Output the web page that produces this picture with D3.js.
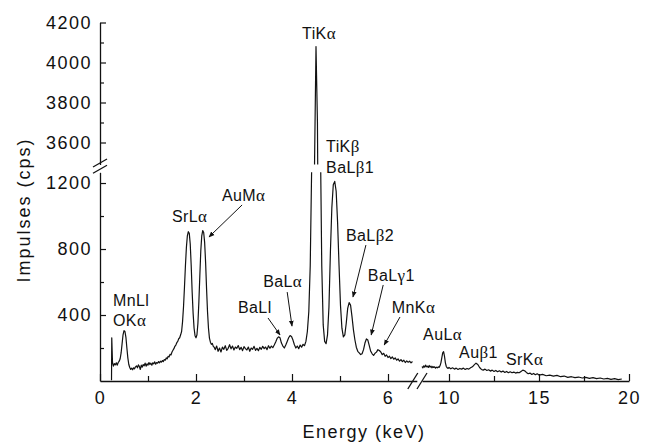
<!DOCTYPE html>
<html>
<head>
<meta charset="utf-8">
<script src="https://cdn.jsdelivr.net/npm/d3@7"></script>
<style>
body { margin: 0; background: #fff; }
svg text { font-family: "Liberation Sans", Arial, sans-serif; fill: #111; }
</style>
</head>
<body>
<svg id="chart" width="654" height="443"></svg>
<script>
// spectrum, part before the x break (keV, cps)
var energyLow = [0.24,0.245,0.26,0.28,0.30,0.32,0.34,0.36,0.38,0.40,0.42,0.44,0.46,0.48,0.50,0.52,0.54,0.56,0.58,0.60,
  0.62,0.64,0.66,0.68,0.70,0.72,0.74,0.76,0.78,0.80,0.82,0.84,0.86,0.88,0.90,0.92,0.94,0.96,0.98,1.00,
  1.02,1.04,1.06,1.08,1.10,1.12,1.14,1.16,1.18,1.20,1.22,1.24,1.26,1.28,1.30,1.32,1.34,1.36,1.38,1.40,
  1.42,1.44,1.46,1.48,1.50,1.52,1.54,1.56,1.58,1.60,1.62,1.64,1.66,1.68,1.70,1.72,1.74,1.76,1.78,1.80,
  1.82,1.84,1.86,1.88,1.90,1.92,1.94,1.96,1.98,2.00,2.02,2.04,2.06,2.08,2.10,2.12,2.14,2.16,2.18,2.20,
  2.22,2.24,2.26,2.28,2.30,2.32,2.34,2.36,2.38,2.40,2.43,2.46,2.49,2.52,2.55,2.58,2.61,2.64,2.67,2.70,
  2.73,2.76,2.79,2.82,2.85,2.88,2.91,2.94,2.97,3.00,3.03,3.06,3.09,3.12,3.15,3.18,3.21,3.24,3.27,3.30,
  3.33,3.36,3.39,3.42,3.45,3.48,3.51,3.54,3.57,3.60,3.63,3.66,3.69,3.72,3.75,3.78,3.81,3.84,3.87,3.90,
  3.93,3.96,3.99,4.02,4.05,4.08,4.11,4.14,4.17,4.20,4.23,4.26,4.29,4.32,4.35,4.38,4.41,4.44,4.47,4.50,
  4.53,4.56,4.59,4.62,4.65,4.68,4.71,4.74,4.77,4.80,4.83,4.86,4.89,4.92,4.95,4.98,5.01,5.04,5.07,5.10,
  5.13,5.16,5.19,5.22,5.25,5.28,5.31,5.34,5.37,5.40,5.43,5.46,5.49,5.52,5.55,5.58,5.61,5.64,5.67,5.70,
  5.73,5.76,5.79,5.82,5.85,5.88,5.91,5.94,5.97,6.00,6.03,6.06,6.09,6.12,6.15,6.18,6.21,6.24,6.27,6.30,
  6.33,6.36,6.39,6.42,6.45,6.48,6.51];
var countsLow = [5,262,115,90,105,98,110,96,112,120,135,170,225,280,305,300,265,200,140,100,
  82,70,78,68,80,74,86,92,80,98,88,70,96,84,100,92,108,90,104,96,
  112,100,108,96,110,104,116,102,112,108,118,110,120,114,124,118,130,126,140,134,
  150,146,162,158,176,186,196,210,218,232,240,256,262,280,300,360,450,570,700,810,
  880,905,895,830,700,540,410,320,275,262,280,350,480,640,790,880,912,900,840,720,
  560,420,320,260,235,222,228,210,205,190,212,180,200,176,205,192,214,186,198,220,
  195,212,188,206,198,215,190,204,184,208,196,188,206,180,200,192,210,186,198,184,
  204,192,210,196,206,190,214,198,212,202,218,236,258,268,262,230,212,200,218,240,
  262,275,270,248,220,200,212,196,218,205,222,214,240,300,420,700,1300,2300,3500,4080,
  3700,2600,1500,700,340,240,226,280,450,780,1050,1190,1210,1150,960,700,460,320,268,280,
  350,440,475,460,390,310,250,205,180,170,160,165,190,230,255,248,215,180,165,155,
  168,175,190,185,176,160,168,150,158,142,150,136,146,132,140,126,134,120,130,118,
  126,112,122,114,120,110,118];

// spectrum, part after the x break
var energyHigh = [8.50,8.55,8.60,8.65,8.70,8.75,8.80,8.85,8.90,8.95,9.00,9.05,9.10,9.15,9.20,9.25,9.30,9.35,9.40,9.45,
  9.50,9.55,9.60,9.65,9.70,9.75,9.80,9.85,9.90,9.95,10.0,10.1,10.2,10.3,10.4,10.5,10.6,10.7,10.8,10.9,
  11.0,11.1,11.2,11.3,11.4,11.5,11.6,11.7,11.8,11.9,12.0,12.1,12.2,12.3,12.4,12.5,12.6,12.7,12.8,12.9,
  13.0,13.1,13.2,13.3,13.4,13.5,13.6,13.7,13.8,13.9,14.0,14.1,14.2,14.3,14.4,14.5,14.6,14.7,14.8,14.9,
  15.0,15.2,15.4,15.6,15.8,16.0,16.2,16.4,16.6,16.8,17.0,17.2,17.4,17.6,17.8,18.0,18.2,18.4,18.6,18.8,
  19.0,19.2,19.4,19.6];
var countsHigh = [88,80,92,84,96,86,90,82,94,84,90,80,88,82,86,78,84,80,86,82,
  92,110,140,170,178,150,110,88,80,76,82,74,80,72,78,70,76,72,78,70,
  76,72,80,86,98,108,100,82,70,66,72,64,68,60,66,58,64,56,62,54,
  60,52,58,50,56,50,54,48,52,50,58,66,62,52,44,48,40,46,38,44,
  36,40,32,36,30,34,26,30,22,26,20,24,18,22,16,20,14,18,12,16,
  10,14,8,12];

// tick values
var yTicksUp = [3600, 3800, 4000, 4200];
var yMinorUp = [3700, 3900, 4100];
var yTicksLow = [400, 800, 1200];
var yMinorLow = [200, 600, 1000];
var xTicksLow = [0, 2, 4, 6];
var xMinorLow = [1, 3, 5];
var xTicksHigh = [10, 15, 20];
var xMinorHigh = [12.5, 17.5];

// peak labels, placed in data coordinates (left edge, baseline)
var peakLabels = [
  {t: "MnLl", e: 0.27, c: 455, p: "low"},
  {t: "OKα", e: 0.27, c: 333, p: "low"},
  {t: "SrLα", e: 1.5, c: 964, p: "low"},
  {t: "AuMα", e: 2.54, c: 1091, p: "low"},
  {t: "TiKα", e: 4.21, c: 4117, p: "up"},
  {t: "TiKβ", e: 4.71, c: 3552, p: "up"},
  {t: "BaLβ1", e: 4.71, c: 1261, p: "low"},
  {t: "BaLl", e: 2.875, c: 412, p: "low"},
  {t: "BaLα", e: 3.4, c: 570, p: "low"},
  {t: "BaLβ2", e: 5.125, c: 849, p: "low"},
  {t: "BaLγ1", e: 5.58, c: 606, p: "low"},
  {t: "MnKα", e: 6.08, c: 412, p: "low"},
  {t: "AuLα", e: 8.56, c: 248, p: "high"},
  {t: "Auβ1", e: 10.56, c: 139, p: "high"},
  {t: "SrKα", e: 13.17, c: 97, p: "high"}
];
// arrows: from (e, c) to (e, c)
var arrowLines = [
  [2.96, 1067, 2.27, 873],
  [3.5, 382, 3.75, 279],
  [3.9, 539, 4.0, 333],
  [5.54, 824, 5.27, 509],
  [5.9, 582, 5.65, 279],
  [6.25, 388, 5.92, 218]
];

var svg = d3.select("svg#chart");

// scales for the two x pieces and the two y pieces
var xLow = d3.scaleLinear().domain([0, 6.6]).range([100, 416.8]);
var xHigh = d3.scaleLinear().domain([8.5, 20]).range([422, 629]);
var yLow = d3.scaleLinear().domain([0, 1265]).range([381, 172.3]);
var yUp = d3.scaleLinear().domain([3490, 4200]).range([164.5, 22.5]);
var fmt = d3.format("d");

var defs = svg.append("defs");
defs.append("clipPath").attr("id", "clipLow")
  .append("rect").attr("x", 90).attr("y", yLow(1265)).attr("width", 340).attr("height", 240);
defs.append("clipPath").attr("id", "clipUp")
  .append("rect").attr("x", 90).attr("y", 0).attr("width", 340).attr("height", yUp(3490));
defs.append("marker").attr("id", "head")
  .attr("viewBox", "0 0 10 10").attr("refX", 9).attr("refY", 5)
  .attr("markerWidth", 6).attr("markerHeight", 6).attr("markerUnits", "userSpaceOnUse")
  .attr("orient", "auto")
  .append("path").attr("d", "M0,1 L10,5 L0,9 Z").attr("fill", "#111");

// axes
function styleAxis(g, size) {
  g.selectAll("text").style("font-size", size + "px").style("letter-spacing", "1.5px")
    .style("font-family", "'Liberation Sans', Arial, sans-serif").attr("fill", "#111");
  g.selectAll("line").attr("stroke", "#111").attr("stroke-width", 1.2);
  g.select(".domain").attr("stroke", "#111").attr("stroke-width", 1.3);
}

var gy1 = svg.append("g").attr("transform", "translate(100,0)")
  .call(d3.axisLeft(yUp).tickValues(yTicksUp).tickFormat(fmt).tickSize(-6).tickSizeOuter(0).tickPadding(8));
styleAxis(gy1, 18);
svg.append("g").attr("transform", "translate(100,0)")
  .call(d3.axisLeft(yUp).tickValues(yMinorUp).tickSize(-4).tickFormat(""))
  .call(function(g){ g.select(".domain").remove(); styleAxis(g, 18); });

var gy2 = svg.append("g").attr("transform", "translate(100,0)")
  .call(d3.axisLeft(yLow).tickValues(yTicksLow).tickFormat(fmt).tickSize(-6).tickSizeOuter(0).tickPadding(8));
styleAxis(gy2, 18);
svg.append("g").attr("transform", "translate(100,0)")
  .call(d3.axisLeft(yLow).tickValues(yMinorLow).tickSize(-4).tickFormat(""))
  .call(function(g){ g.select(".domain").remove(); styleAxis(g, 18); });

var gx1 = svg.append("g").attr("transform", "translate(0,381)")
  .call(d3.axisBottom(xLow).tickValues(xTicksLow).tickFormat(fmt).tickSize(-7).tickSizeOuter(0).tickPadding(10));
styleAxis(gx1, 18);
svg.append("g").attr("transform", "translate(0,381)")
  .call(d3.axisBottom(xLow).tickValues(xMinorLow).tickSize(-5).tickFormat(""))
  .call(function(g){ g.select(".domain").remove(); styleAxis(g, 18); });

var gx2 = svg.append("g").attr("transform", "translate(0,381)")
  .call(d3.axisBottom(xHigh).tickValues(xTicksHigh).tickFormat(fmt).tickSize(-7).tickSizeOuter(0).tickPadding(10));
styleAxis(gx2, 18);
svg.append("g").attr("transform", "translate(0,381)")
  .call(d3.axisBottom(xHigh).tickValues(xMinorHigh).tickSize(-5).tickFormat(""))
  .call(function(g){ g.select(".domain").remove(); styleAxis(g, 18); });

// break marks
var breaks = svg.append("g").attr("stroke", "#111").attr("stroke-width", 1.3);
[yUp(3490) - 1.5, yLow(1265) - 3].forEach(function(yc){
  breaks.append("line").attr("x1", 93).attr("y1", yc + 4).attr("x2", 107).attr("y2", yc - 4);
});
[xLow(6.6) - 4, xHigh(8.5)].forEach(function(xc){
  breaks.append("line").attr("x1", xc - 5).attr("y1", 389).attr("x2", xc + 5).attr("y2", 373);
});

// spectrum
var lineLowY = d3.line().x(function(d){ return xLow(d[0]); }).y(function(d){ return yLow(d[1]); });
var lineUpY = d3.line().x(function(d){ return xLow(d[0]); }).y(function(d){ return yUp(d[1]); });
var lineHigh = d3.line().x(function(d){ return xHigh(d[0]); }).y(function(d){ return yLow(d[1]); });
var lowData = d3.zip(energyLow, countsLow);

svg.append("path").datum(lowData).attr("d", lineLowY).attr("clip-path", "url(#clipLow)")
  .attr("fill", "none").attr("stroke", "#111").attr("stroke-width", 1.2).attr("stroke-linejoin", "round");
svg.append("path").datum(lowData).attr("d", lineUpY).attr("clip-path", "url(#clipUp)")
  .attr("fill", "none").attr("stroke", "#111").attr("stroke-width", 1.2).attr("stroke-linejoin", "round");
svg.append("path").datum(d3.zip(energyHigh, countsHigh)).attr("d", lineHigh)
  .attr("fill", "none").attr("stroke", "#111").attr("stroke-width", 1.2).attr("stroke-linejoin", "round");

// labels, greek letters in a serif face
function addLabel(txt, x, y) {
  var t = svg.append("text").attr("x", x).attr("y", y)
    .style("font-size", "16px").style("letter-spacing", "0.4px");
  txt.split(/([αβγ])/).forEach(function(part){
    if (part === "") return;
    var s = t.append("tspan").text(part);
    if (/[αβγ]/.test(part)) s.style("font-family", "'Liberation Serif', serif").style("font-size", "17px");
  });
}
peakLabels.forEach(function(d){
  var x = d.p === "high" ? xHigh(d.e) : xLow(d.e);
  var y = d.p === "up" ? yUp(d.c) : yLow(d.c);
  addLabel(d.t, x, y);
});

svg.append("g").selectAll("line").data(arrowLines).enter().append("line")
  .attr("x1", function(d){ return xLow(d[0]); })
  .attr("y1", function(d){ return yLow(d[1]); })
  .attr("x2", function(d){ return xLow(d[2]); })
  .attr("y2", function(d){ return yLow(d[3]); })
  .attr("stroke", "#111").attr("stroke-width", 1)
  .attr("marker-end", "url(#head)");

// axis titles
svg.append("text").attr("x", 364).attr("y", 438).style("text-anchor", "middle")
  .style("font-size", "18px").style("letter-spacing", "1.5px").text("Energy (keV)");
svg.append("text").attr("transform", "translate(30,210) rotate(-90)").style("text-anchor", "middle")
  .style("font-size", "18px").style("letter-spacing", "2px").text("Impulses (cps)");
</script>
</body>
</html>
